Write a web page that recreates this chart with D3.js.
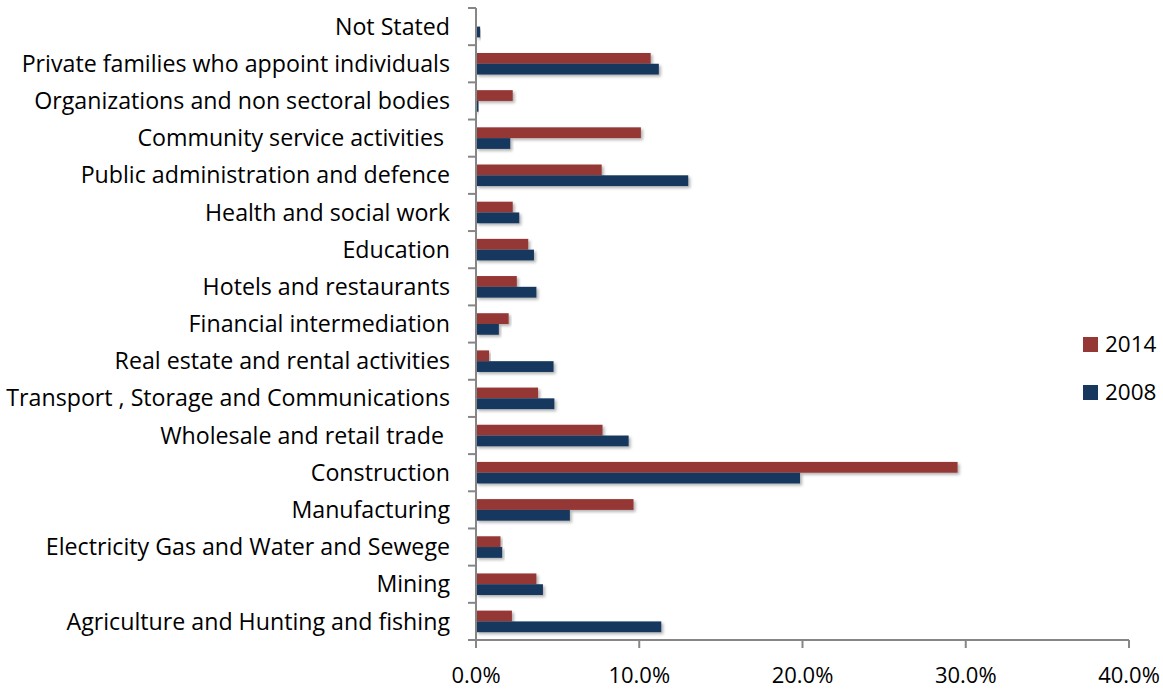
<!DOCTYPE html>
<html>
<head>
<meta charset="utf-8">
<script src="https://d3js.org/d3.v7.min.js"></script>
<style>
  body { margin: 0; background: #fff; }
  text { font-family: "Open Sans", Lato, sans-serif; fill: #000; }
</style>
</head>
<body>
<div id="my_dataviz"></div>
<script>

// categories, top to bottom
var categories = [
  "Not Stated",
  "Private families who appoint individuals",
  "Organizations and non sectoral bodies",
  "Community service activities ",
  "Public administration and defence",
  "Health and social work",
  "Education",
  "Hotels and restaurants",
  "Financial intermediation",
  "Real estate and rental activities",
  "Transport , Storage and Communications",
  "Wholesale and retail trade ",
  "Construction",
  "Manufacturing",
  "Electricity Gas and Water and Sewege",
  "Mining",
  "Agriculture and Hunting and fishing"
];

// share of total (%)
var values2014 = [0.05, 10.7, 2.25, 10.1, 7.7, 2.25, 3.2, 2.5, 2.0, 0.8, 3.8, 7.75, 29.5, 9.65, 1.5, 3.7, 2.2];
var values2008 = [0.25, 11.2, 0.15, 2.1, 13.0, 2.65, 3.55, 3.7, 1.4, 4.75, 4.8, 9.35, 19.85, 5.75, 1.6, 4.1, 11.35];

var seriesNames = ["2014", "2008"];
var xTicks = [0, 10, 20, 30, 40];

var colors = {"2014": "#953735", "2008": "#17375e"};

var W = 1163, H = 689;
var margin = {top: 8, right: 34, bottom: 49, left: 476};
var width = W - margin.left - margin.right,
    height = H - margin.top - margin.bottom;

var svg = d3.select("#my_dataviz")
  .append("svg")
    .attr("width", W)
    .attr("height", H);

// soft drop shadow like the original
var defs = svg.append("defs");
var f = defs.append("filter").attr("id", "shadow")
  .attr("x", "-5%").attr("y", "-30%").attr("width", "115%").attr("height", "190%");
f.append("feDropShadow")
  .attr("dx", 2).attr("dy", 2).attr("stdDeviation", 1.5)
  .attr("flood-color", "#000").attr("flood-opacity", 0.3);

var g = svg.append("g")
  .attr("transform", "translate(" + margin.left + "," + margin.top + ")");

var x = d3.scaleLinear().domain([0, 40]).range([0, width]);
var y = d3.scaleBand().domain(categories).range([0, height]).paddingInner(0.42).paddingOuter(0.21);
var ySub = d3.scaleBand().domain(seriesNames).range([0, y.bandwidth()]);

var rows = categories.map(function(c, i) {
  return {cat: c, vals: [{key: "2014", v: values2014[i]}, {key: "2008", v: values2008[i]}]};
});

// bars
var groups = g.selectAll("g.row")
  .data(rows)
  .enter().append("g")
    .attr("class", "row")
    .attr("transform", function(d) { return "translate(0," + y(d.cat) + ")"; });

groups.selectAll("rect")
  .data(function(d) { return d.vals; })
  .enter().append("rect")
    .attr("x", x(0))
    .attr("y", function(d) { return ySub(d.key); })
    .attr("width", function(d) { return x(d.v) - x(0); })
    .attr("height", ySub.bandwidth())
    .attr("fill", function(d) { return colors[d.key]; })
    .attr("filter", "url(#shadow)");

// y axis: line + ticks between categories
var step = height / categories.length;
var yAxisG = g.append("g");
yAxisG.append("line")
  .attr("x1", 0).attr("x2", 0).attr("y1", 0).attr("y2", height)
  .attr("stroke", "#868686").attr("stroke-width", 2);
yAxisG.selectAll("line.tk")
  .data(d3.range(categories.length + 1))
  .enter().append("line")
    .attr("class", "tk")
    .attr("x1", -8).attr("x2", 0)
    .attr("y1", function(i) { return i * step; })
    .attr("y2", function(i) { return i * step; })
    .attr("stroke", "#868686").attr("stroke-width", 2);

yAxisG.selectAll("text.cat")
  .data(categories)
  .enter().append("text")
    .attr("class", "cat")
    .attr("x", -26)
    .attr("y", function(d) { return y(d) + y.bandwidth() / 2; })
    .attr("dy", "0.35em")
    .attr("text-anchor", "end")
    .style("white-space", "pre")
    .style("font-size", "23.2px")
    .text(function(d) { return d; });

// x axis
var xAxisG = g.append("g").attr("transform", "translate(0," + height + ")");
xAxisG.append("line")
  .attr("x1", 0).attr("x2", width)
  .attr("stroke", "#868686").attr("stroke-width", 2);
xAxisG.selectAll("line.tk")
  .data(xTicks)
  .enter().append("line")
    .attr("x1", function(d) { return x(d); })
    .attr("x2", function(d) { return x(d); })
    .attr("y1", 0).attr("y2", 8)
    .attr("stroke", "#868686").attr("stroke-width", 2);
xAxisG.selectAll("text")
  .data(xTicks)
  .enter().append("text")
    .attr("x", function(d) { return x(d); })
    .attr("y", 43)
    .attr("text-anchor", "middle")
    .style("font-size", "22px")
    .text(function(d) { return d.toFixed(1) + "%"; });

// legend
var legend = svg.append("g").attr("transform", "translate(1083,337)");
legend.selectAll("rect")
  .data(seriesNames)
  .enter().append("rect")
    .attr("x", 0)
    .attr("y", function(d, i) { return i * 48; })
    .attr("width", 15).attr("height", 15)
    .attr("fill", function(d) { return colors[d]; });
legend.selectAll("text")
  .data(seriesNames)
  .enter().append("text")
    .attr("x", 22)
    .attr("y", function(d, i) { return i * 48 + 7.5; })
    .attr("dy", "0.35em")
    .style("font-size", "22.5px")
    .text(function(d) { return d; });

</script>
</body>
</html>
